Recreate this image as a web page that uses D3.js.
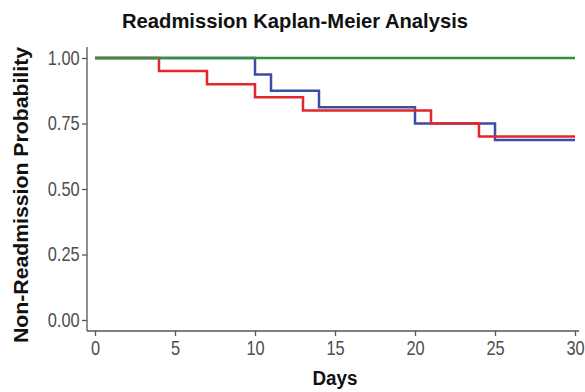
<!DOCTYPE html>
<html>
<head>
<meta charset="utf-8">
<script src="https://cdn.jsdelivr.net/npm/d3@7"></script>
<style>
	body { margin: 0; background: #fff; }
	.axis text { font-family: "Liberation Sans", Arial, sans-serif; font-size: 20px; fill: #4d4d4d; }
	.axis path, .axis line { stroke: #555; stroke-width: 1.3px; }
	.lbl { font-family: "Liberation Sans", Arial, sans-serif; font-weight: bold; fill: #111; }
</style>
</head>
<body>
<div id="chart"></div>
<script>
// step curves: day of each drop and the survival level after it
var greenDays = [0, 30];
var greenSurv = [1, 1];

var redDays = [0, 4, 7, 10, 13, 21, 24, 30];
var redSurv = [1, 0.95, 0.90, 0.85, 0.80, 0.75, 0.70, 0.70];

var blueDays = [0, 10, 11, 14, 20, 25, 30];
var blueSurv = [1, 0.9375, 0.875, 0.8125, 0.75, 0.6875, 0.6875];

var xTicks = [0, 5, 10, 15, 20, 25, 30];
var yTicks = [0, 0.25, 0.5, 0.75, 1];

var width = 585;
var height = 392;

var svg = d3.select("#chart").append("svg")
	.attr("width", width)
	.attr("height", height);

var x = d3.scaleLinear()
	.domain([0, 30])
	.range([95, 575]);
var y = d3.scaleLinear()
	.domain([0, 1])
	.range([320, 58]);

var xAxis = d3.axisBottom(x)
	.tickValues(xTicks)
	.tickSize(5)
	.tickSizeOuter(0)
	.tickPadding(5);
var yAxis = d3.axisLeft(y)
	.tickValues(yTicks)
	.tickFormat(d3.format(".2f"))
	.tickSize(5)
	.tickSizeOuter(0)
	.tickPadding(4);

var gx = svg.append("g")
	.attr("class", "axis")
	.attr("transform", "translate(0,331)")
	.call(xAxis);
gx.select(".domain").attr("d", "M87,0H579");

var gy = svg.append("g")
	.attr("class", "axis")
	.attr("transform", "translate(87,0)")
	.call(yAxis);
gy.select(".domain").attr("d", "M0,47V331");

// narrow tick labels like the original
svg.selectAll(".axis .tick text").attr("transform", "scale(0.82,1)");

var line = d3.line()
	.x(function(d) { return x(d[0]); })
	.y(function(d) { return y(d[1]); })
	.curve(d3.curveStepAfter);

// green last so it sits on top at 1.00
var series = [
	{days: blueDays, surv: blueSurv, color: "#3b4ea6"},
	{days: redDays, surv: redSurv, color: "#e3262d"},
	{days: greenDays, surv: greenSurv, color: "#2f9140"}
];

series.forEach(function(s) {
	svg.append("path")
		.datum(d3.zip(s.days, s.surv))
		.attr("d", line)
		.attr("fill", "none")
		.attr("stroke", s.color)
		.attr("stroke-width", 2.5);
});

svg.append("text")
	.attr("class", "lbl")
	.attr("x", 295)
	.attr("y", 28)
	.attr("text-anchor", "middle")
	.attr("textLength", 346)
	.attr("lengthAdjust", "spacingAndGlyphs")
	.style("font-size", "21px")
	.text("Readmission Kaplan-Meier Analysis");

svg.append("text")
	.attr("class", "lbl")
	.attr("x", 335)
	.attr("y", 385)
	.attr("text-anchor", "middle")
	.attr("textLength", 45)
	.attr("lengthAdjust", "spacingAndGlyphs")
	.style("font-size", "20px")
	.text("Days");

svg.append("text")
	.attr("class", "lbl")
	.attr("transform", "translate(28,195) rotate(-90)")
	.attr("text-anchor", "middle")
	.attr("textLength", 296)
	.attr("lengthAdjust", "spacingAndGlyphs")
	.style("font-size", "21px")
	.text("Non-Readmission Probability");
</script>
</body>
</html>
